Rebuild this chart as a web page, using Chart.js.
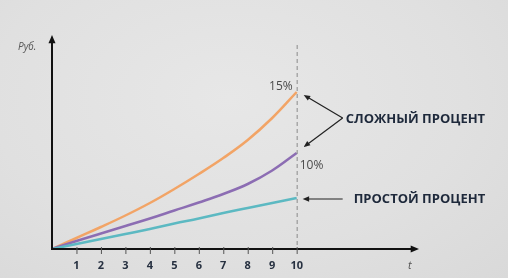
<!DOCTYPE html>
<html>
<head>
<meta charset="utf-8">
<script src="https://cdn.jsdelivr.net/npm/chart.js@4.4.0/dist/chart.umd.min.js"></script>
<style>
  html, body { margin: 0; padding: 0; }
  body {
    width: 508px; height: 278px; overflow: hidden;
    background: radial-gradient(ellipse at 45% 35%, #e7e7e7 0%, #e0e0e0 60%, #d9d9d9 100%);
  }
</style>
</head>
<body>
<canvas id="myChart" width="508" height="278"></canvas>
<script>
///////////// DATA /////////////

const years = [0, 1, 2, 3, 4, 5, 6, 7, 8, 9, 10];
const compound15 = [0, 1.1, 2.2, 3.35, 4.6, 6.0, 7.5, 9.1, 10.9, 13.1, 15.7];  // сложный 15%
const compound10 = [0, 0.8, 1.55, 2.3, 3.05, 3.85, 4.65, 5.5, 6.5, 7.85, 9.6];  // сложный 10%
const simple = [0, 0.5, 1.0, 1.5, 2.0, 2.55, 3.05, 3.6, 4.1, 4.6, 5.1];         // простой
const tickLabels = ['1', '2', '3', '4', '5', '6', '7', '8', '9', '10'];

const pts = arr => years.map((t, i) => ({ x: t, y: arr[i] }));

///////////// HELPERS /////////////

function arrow(ctx, x1, y1, x2, y2, head) {
  const a = Math.atan2(y2 - y1, x2 - x1);
  ctx.beginPath();
  ctx.moveTo(x1, y1);
  ctx.lineTo(x2 - Math.cos(a) * head * 0.8, y2 - Math.sin(a) * head * 0.8);
  ctx.stroke();
  ctx.beginPath();
  ctx.moveTo(x2, y2);
  ctx.lineTo(x2 - head * Math.cos(a - 0.4), y2 - head * Math.sin(a - 0.4));
  ctx.lineTo(x2 - head * Math.cos(a + 0.4), y2 - head * Math.sin(a + 0.4));
  ctx.closePath();
  ctx.fill();
}

// axes with arrows, ticks, dashed line and the callouts
const decor = {
  id: 'decor',
  afterDraw(chart) {
    const { ctx, chartArea: area } = chart;
    const xs = chart.scales.x, ys = chart.scales.y;
    const x0 = xs.getPixelForValue(0), y0 = ys.getPixelForValue(0);
    const xEnd = xs.getPixelForValue(10);
    ctx.save();

    // dashed line at t = 10
    ctx.strokeStyle = '#8a8a8a';
    ctx.lineWidth = 1;
    ctx.setLineDash([4, 3]);
    ctx.beginPath();
    ctx.moveTo(xEnd + 0.5, area.top + 10);
    ctx.lineTo(xEnd + 0.5, y0);
    ctx.stroke();
    ctx.setLineDash([]);

    // axes
    ctx.strokeStyle = '#111';
    ctx.fillStyle = '#111';
    ctx.lineWidth = 2;
    arrow(ctx, x0, y0 + 1, x0, area.top, 9);
    arrow(ctx, x0 - 1, y0, area.right, y0, 9);

    // tick marks + labels
    ctx.lineWidth = 1;
    ctx.strokeStyle = '#555';
    ctx.font = 'bold 11px "Open Sans"';
    ctx.fillStyle = '#273141';
    ctx.textAlign = 'center';
    ctx.textBaseline = 'middle';
    tickLabels.forEach(lbl => {
      const px = xs.getPixelForValue(Number(lbl));
      ctx.beginPath();
      ctx.moveTo(px + 0.5, y0 - 2);
      ctx.lineTo(px + 0.5, y0 + 5);
      ctx.stroke();
      ctx.fillText(lbl, px, y0 + 17);
    });

    // axis names
    ctx.fillStyle = '#555';
    ctx.font = 'italic 10px "Open Sans"';
    ctx.textAlign = 'left';
    ctx.fillText('Руб.', 18, area.top + 12);
    ctx.font = 'italic 11px "Open Sans"';
    ctx.fillText('t', area.right - 11, y0 + 17);

    // end values
    const yO = ys.getPixelForValue(compound15[10]);
    const yP = ys.getPixelForValue(compound10[10]);
    const yT = ys.getPixelForValue(simple[10]);
    ctx.font = '12px "Open Sans"';
    ctx.fillStyle = '#4a4a4a';
    ctx.textAlign = 'right';
    ctx.fillText('15%', xEnd - 4, yO - 5);
    ctx.textAlign = 'left';
    ctx.fillText('10%', xEnd + 3, yP + 13);

    // callouts
    ctx.strokeStyle = '#222';
    ctx.fillStyle = '#222';
    ctx.lineWidth = 1.2;
    const vx = xEnd + 46, vy = 118;
    arrow(ctx, vx, vy, xEnd + 7, yO + 3, 7);
    arrow(ctx, vx, vy, xEnd + 7, yP - 6, 7);
    arrow(ctx, xEnd + 46, yT + 1, xEnd + 6, yT + 1, 7);

    ctx.font = 'bold 13px "Open Sans"';
    ctx.fillStyle = '#1e293b';
    ctx.textAlign = 'left';
    ctx.fillText('СЛОЖНЫЙ ПРОЦЕНТ', vx + 3, vy + 1);
    ctx.fillText('ПРОСТОЙ ПРОЦЕНТ', xEnd + 57, yT + 1);
    ctx.restore();
  }
};

///////////// CHART /////////////

const line = (arr, color) => ({
  data: pts(arr),
  borderColor: color,
  borderWidth: 2.5,
  pointRadius: 0,
  tension: 0.4,
  fill: false
});

new Chart(document.getElementById('myChart'), {
  type: 'line',
  data: {
    datasets: [
      line(simple, '#5cb9c2'),
      line(compound10, '#8c6db3'),
      line(compound15, '#f2a466')
    ]
  },
  options: {
    responsive: false,
    animation: false,
    layout: { padding: { left: 52, top: 35, right: 89, bottom: 29 } },
    plugins: { legend: { display: false }, tooltip: { enabled: false } },
    scales: {
      x: { type: 'linear', min: 0, max: 15, display: false },
      y: { min: 0, max: 21.4, display: false }
    }
  },
  plugins: [decor]
});
</script>
</body>
</html>
